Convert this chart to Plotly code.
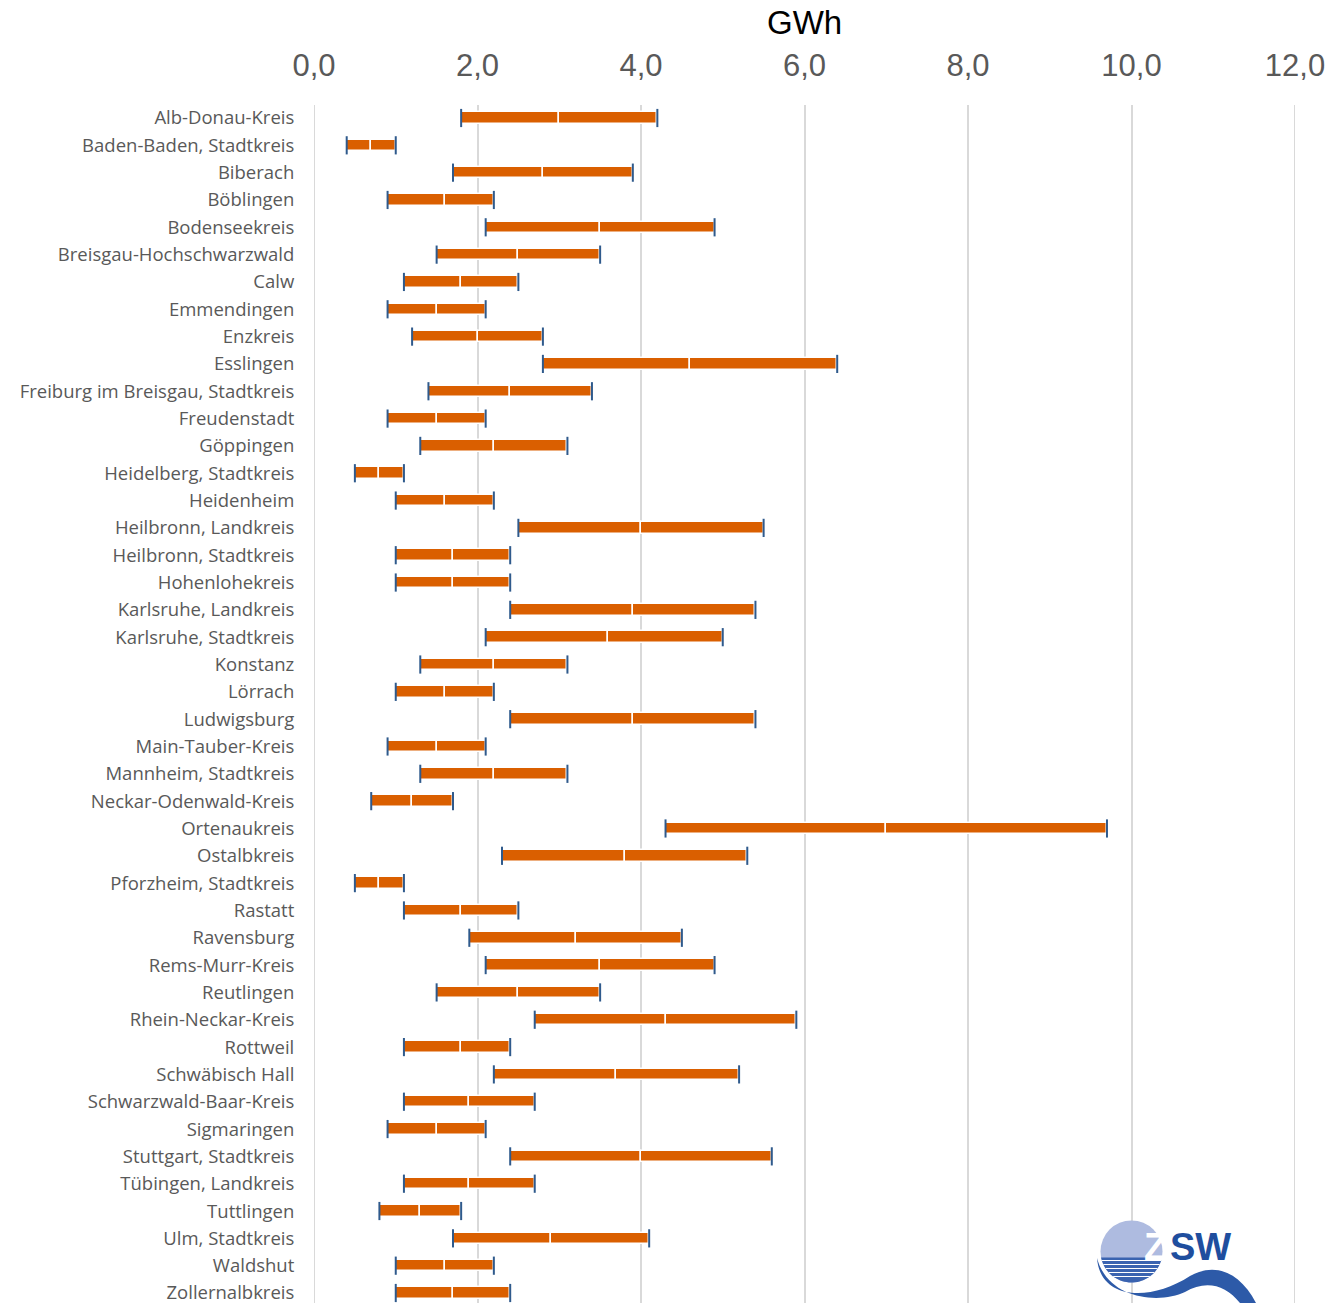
import math
import plotly.graph_objects as go

categories = [
    "Alb-Donau-Kreis", "Baden-Baden, Stadtkreis", "Biberach", "Böblingen", "Bodenseekreis",
    "Breisgau-Hochschwarzwald", "Calw", "Emmendingen", "Enzkreis", "Esslingen",
    "Freiburg im Breisgau, Stadtkreis", "Freudenstadt", "Göppingen", "Heidelberg, Stadtkreis",
    "Heidenheim", "Heilbronn, Landkreis", "Heilbronn, Stadtkreis", "Hohenlohekreis",
    "Karlsruhe, Landkreis", "Karlsruhe, Stadtkreis", "Konstanz", "Lörrach", "Ludwigsburg",
    "Main-Tauber-Kreis", "Mannheim, Stadtkreis", "Neckar-Odenwald-Kreis", "Ortenaukreis",
    "Ostalbkreis", "Pforzheim, Stadtkreis", "Rastatt", "Ravensburg", "Rems-Murr-Kreis",
    "Reutlingen", "Rhein-Neckar-Kreis", "Rottweil", "Schwäbisch Hall", "Schwarzwald-Baar-Kreis",
    "Sigmaringen", "Stuttgart, Stadtkreis", "Tübingen, Landkreis", "Tuttlingen",
    "Ulm, Stadtkreis", "Waldshut", "Zollernalbkreis",
]
min_gwh = [1.8, 0.4, 1.7, 0.9, 2.1, 1.5, 1.1, 0.9, 1.2, 2.8,
           1.4, 0.9, 1.3, 0.5, 1.0, 2.5, 1.0, 1.0, 2.4, 2.1,
           1.3, 1.0, 2.4, 0.9, 1.3, 0.7, 4.3, 2.3, 0.5, 1.1,
           1.9, 2.1, 1.5, 2.7, 1.1, 2.2, 1.1, 0.9, 2.4, 1.1,
           0.8, 1.7, 1.0, 1.0]
mid_gwh = [3.0, 0.7, 2.8, 1.6, 3.5, 2.5, 1.8, 1.5, 2.0, 4.6,
           2.4, 1.5, 2.2, 0.8, 1.6, 4.0, 1.7, 1.7, 3.9, 3.6,
           2.2, 1.6, 3.9, 1.5, 2.2, 1.2, 7.0, 3.8, 0.8, 1.8,
           3.2, 3.5, 2.5, 4.3, 1.8, 3.7, 1.9, 1.5, 4.0, 1.9,
           1.3, 2.9, 1.6, 1.7]
max_gwh = [4.2, 1.0, 3.9, 2.2, 4.9, 3.5, 2.5, 2.1, 2.8, 6.4,
           3.4, 2.1, 3.1, 1.1, 2.2, 5.5, 2.4, 2.4, 5.4, 5.0,
           3.1, 2.2, 5.4, 2.1, 3.1, 1.7, 9.7, 5.3, 1.1, 2.5,
           4.5, 4.9, 3.5, 5.9, 2.4, 5.2, 2.7, 2.1, 5.6, 2.7,
           1.8, 4.1, 2.2, 2.4]
x_ticks = [0, 2, 4, 6, 8, 10, 12]
axis_title = "GWh"

W, H = 1342, 1303
ML, MR, MT, MB = 314, 47, 105, 0
ORANGE = "#DA5F00"
CAP = "#2F5A8C"

idx = list(range(len(categories)))

fig = go.Figure()
fig.add_trace(go.Bar(
    orientation="h", y=idx, base=min_gwh,
    x=[m - a for m, a in zip(mid_gwh, min_gwh)],
    width=0.42, marker=dict(color=ORANGE, line=dict(color="white", width=1.5)),
    hoverinfo="skip", showlegend=False,
))
fig.add_trace(go.Bar(
    orientation="h", y=idx, base=mid_gwh,
    x=[b - m for b, m in zip(max_gwh, mid_gwh)],
    width=0.42, marker=dict(color=ORANGE, line=dict(color="white", width=1.5)),
    hoverinfo="skip", showlegend=False,
))
fig.add_trace(go.Scatter(
    x=min_gwh + max_gwh, y=idx + idx, mode="markers",
    marker=dict(symbol="line-ns", size=13, line=dict(color=CAP, width=2)),
    hoverinfo="skip", showlegend=False,
))

plot_h = H - MT - MB
n = len(categories)
row_px = 27.33
y_top = -(118 - MT) / row_px
y_bot = (n - 1) + (H - MB - 1293) / row_px


def px(x, y):
    return (x - ML) / (W - ML - MR), (H - MB - y) / plot_h


shapes = []
# edge grid lines at 0 and 12
for gx in (0, 12):
    shapes.append(dict(type="line", xref="x", yref="paper", x0=gx, x1=gx, y0=0, y1=1,
                       line=dict(color="#D9D9D9", width=2), layer="below"))
# ZSW logo (decorative)
cx, cy, r = 1131.5, 1251.5, 31
x0, y0 = px(cx - r, cy - r)
x1, y1 = px(cx + r, cy + r)
shapes.append(dict(type="circle", xref="paper", yref="paper", x0=x0, y0=y1, x1=x1, y1=y0,
                   fillcolor="#AEBBE0", line=dict(width=0), layer="above"))
seg_y = cy + 6
half = math.sqrt(r * r - 6 * 6)
path = "M {:.5f},{:.5f} ".format(*px(cx + half, seg_y))
a_start = int(math.degrees(math.asin(6 / r)))
for k in range(a_start, 181 - a_start + 1, 4):
    a = math.radians(k)
    path += "L {:.5f},{:.5f} ".format(*px(cx + r * math.cos(a), cy + r * math.sin(a)))
path += "L {:.5f},{:.5f} Z".format(*px(cx - half, seg_y))
shapes.append(dict(type="path", xref="paper", yref="paper", path=path,
                   fillcolor="#3A63B0", line=dict(width=0), layer="above"))
for dy in [9, 13, 17, 21, 25]:
    yy = cy + dy
    hh = math.sqrt(max(r * r - dy * dy, 0))
    a0 = px(cx - hh, yy)
    a1 = px(cx + hh, yy)
    shapes.append(dict(type="line", xref="paper", yref="paper", x0=a0[0], y0=a0[1], x1=a1[0], y1=a1[1],
                       line=dict(color="white", width=1.2), layer="above"))
# swoosh
wave_pts = [(1097, 1258), (1100, 1300), (1150, 1302), (1190, 1276), (1215, 1262), (1240, 1272), (1256, 1303),
            (1240, 1303), (1225, 1284), (1205, 1280), (1185, 1292), (1160, 1304), (1108, 1300), (1097, 1258)]
p = [px(*q) for q in wave_pts]
wpath = ("M {:.5f},{:.5f} C {:.5f},{:.5f} {:.5f},{:.5f} {:.5f},{:.5f} "
         "C {:.5f},{:.5f} {:.5f},{:.5f} {:.5f},{:.5f} L {:.5f},{:.5f} "
         "C {:.5f},{:.5f} {:.5f},{:.5f} {:.5f},{:.5f} "
         "C {:.5f},{:.5f} {:.5f},{:.5f} {:.5f},{:.5f} Z").format(*[c for q in p for c in q])
shapes.append(dict(type="path", xref="paper", yref="paper", path=wpath,
                   fillcolor="#2D5AA8", line=dict(width=0), layer="above"))

zx, zy = px(1168, 1247)
wx, wy = px(1155, 1247)
annotations = [
    dict(text=axis_title, x=6, xref="x", y=px(0, 22)[1], yref="paper", showarrow=False,
         xanchor="center", yanchor="middle",
         font=dict(family="Liberation Sans, Arial", size=33, color="black")),
    dict(text="<b>SW</b>", x=zx, y=zy, xref="paper", yref="paper", showarrow=False,
         xanchor="left", yanchor="middle",
         font=dict(family="Liberation Sans, Arial", size=38, color="#1F4E9E")),
    dict(text="<b>Z</b>", x=wx, y=wy, xref="paper", yref="paper", showarrow=False,
         xanchor="center", yanchor="middle",
         font=dict(family="Liberation Sans, Arial", size=38, color="white")),
]

fig.update_layout(
    width=W, height=H,
    margin=dict(l=ML, r=MR, t=MT, b=MB, pad=0),
    paper_bgcolor="white", plot_bgcolor="white",
    barmode="overlay", bargap=0,
    separators=",.",
    shapes=shapes, annotations=annotations,
    showlegend=False,
)
fig.update_xaxes(
    side="top", range=[0, 12], tickvals=x_ticks, tickformat=".1f",
    showgrid=True, gridcolor="#D9D9D9", gridwidth=2, zeroline=False, showline=False,
    ticks="outside", ticklen=16, tickcolor="rgba(0,0,0,0)",
    tickfont=dict(family="Liberation Sans, Arial", size=31, color="#595959"),
)
fig.update_yaxes(
    range=[y_bot, y_top], tickvals=idx, ticktext=categories,
    showgrid=False, zeroline=False, showline=False,
    ticks="outside", ticklen=15, tickcolor="rgba(0,0,0,0)",
    ticklabeloverflow="allow",
    tickfont=dict(family="Open Sans", size=18.5, color="#595959"),
)

fig.write_html("out.html")
